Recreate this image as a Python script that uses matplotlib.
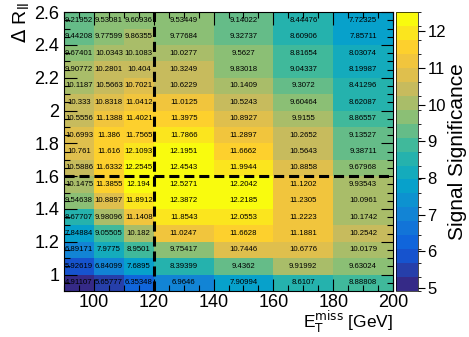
import numpy as np
import matplotlib
matplotlib.use("Agg")
import matplotlib.pyplot as plt
from matplotlib.colors import LinearSegmentedColormap, BoundaryNorm
from matplotlib.ticker import MultipleLocator

plt.rcParams['font.family'] = ['Liberation Sans', 'DejaVu Sans']

# bin edges (MET in GeV, delta R_ll)
met_edges = [90, 100, 110, 120, 140, 160, 180, 200]
dr_edges = [0.9, 1.0, 1.1, 1.2, 1.3, 1.4, 1.5, 1.6, 1.7, 1.8,
            1.9, 2.0, 2.1, 2.2, 2.3, 2.4, 2.5, 2.6]

# significance, rows from dR=0.9 (bottom) up to 2.5 (top)
row_0_9 = [4.91107, 5.65777, 6.35348, 6.9646, 7.90994, 8.6107, 8.88808]
row_1_0 = [5.92619, 6.84099, 7.6895, 8.39399, 9.4362, 9.91992, 9.63024]
row_1_1 = [6.89171, 7.9775, 8.9501, 9.75417, 10.7446, 10.6776, 10.0179]
row_1_2 = [7.84884, 9.05505, 10.182, 11.0247, 11.6628, 11.1881, 10.2542]
row_1_3 = [8.67707, 9.98096, 11.1408, 11.8543, 12.0553, 11.2223, 10.1742]
row_1_4 = [9.54638, 10.8897, 11.8912, 12.3872, 12.2185, 11.2305, 10.0961]
row_1_5 = [10.1475, 11.3855, 12.194, 12.5271, 12.2042, 11.1202, 9.93543]
row_1_6 = [10.5886, 11.6332, 12.2545, 12.4543, 11.9944, 10.8858, 9.67968]
row_1_7 = [10.761, 11.616, 12.1093, 12.1951, 11.6662, 10.5643, 9.38711]
row_1_8 = [10.6993, 11.386, 11.7565, 11.7866, 11.2897, 10.2652, 9.13527]
row_1_9 = [10.5556, 11.1388, 11.4021, 11.3975, 10.8927, 9.9155, 8.86557]
row_2_0 = [10.333, 10.8318, 11.0412, 11.0125, 10.5243, 9.60464, 8.62087]
row_2_1 = [10.1187, 10.5663, 10.7021, 10.6229, 10.1409, 9.3072, 8.41296]
row_2_2 = [9.90772, 10.2801, 10.404, 10.3249, 9.83018, 9.04337, 8.19987]
row_2_3 = [9.67401, 10.0343, 10.1083, 10.0277, 9.5627, 8.81654, 8.03074]
row_2_4 = [9.44208, 9.77599, 9.86355, 9.77684, 9.32737, 8.60906, 7.85711]
row_2_5 = [9.21952, 9.53081, 9.60936, 9.53449, 9.14022, 8.44476, 7.72325]

sig = np.array([row_0_9, row_1_0, row_1_1, row_1_2, row_1_3, row_1_4, row_1_5,
                row_1_6, row_1_7, row_1_8, row_1_9, row_2_0, row_2_1, row_2_2,
                row_2_3, row_2_4, row_2_5])

# ROOT kBird palette
stops = [0.0, 0.125, 0.25, 0.375, 0.5, 0.625, 0.75, 0.875, 1.0]
red = [0.2082, 0.0592, 0.0780, 0.0232, 0.1802, 0.5301, 0.8186, 0.9956, 0.9764]
green = [0.1664, 0.3599, 0.5041, 0.6419, 0.7178, 0.7492, 0.7328, 0.7862, 0.9832]
blue = [0.5293, 0.8684, 0.8385, 0.7914, 0.6425, 0.4662, 0.3499, 0.1968, 0.0539]
bird = LinearSegmentedColormap.from_list(
    "bird", list(zip(stops, zip(red, green, blue))), N=256)

levels = np.linspace(sig.min(), sig.max(), 21)
norm = BoundaryNorm(levels, ncolors=256)

fig = plt.figure(figsize=(4.69, 3.37), dpi=100)
ax = fig.add_axes([0.1365, 0.1365, 0.7015, 0.8275])
cax = fig.add_axes([0.844, 0.1365, 0.047, 0.8275])

mesh = ax.pcolormesh(met_edges, dr_edges, sig, cmap=bird, norm=norm)

xc = 0.5 * (np.array(met_edges[:-1]) + np.array(met_edges[1:]))
yc = 0.5 * (np.array(dr_edges[:-1]) + np.array(dr_edges[1:]))
for i, y in enumerate(yc):
    for j, x in enumerate(xc):
        ax.text(x, y, "{:g}".format(sig[i, j]), ha='center', va='center',
                fontsize=5.6, color='black')

ax.axvline(120, color='black', lw=2.2, dashes=(3.3, 1.6))
ax.axhline(1.6, color='black', lw=2.2, dashes=(3.3, 1.6))

ax.set_xlim(90, 200)
ax.set_ylim(0.9, 2.6)
ax.xaxis.set_major_locator(MultipleLocator(20))
ax.xaxis.set_minor_locator(MultipleLocator(5))
ax.yaxis.set_major_locator(MultipleLocator(0.2))
ax.yaxis.set_minor_locator(MultipleLocator(0.05))
ax.tick_params(which='both', direction='in', top=True, right=True,
               labelsize=13, width=0.8)
ax.tick_params(which='major', length=9)
ax.tick_params(which='minor', length=4.5)
ax.tick_params(axis='x', pad=2)
ax.set_yticks([1.0, 1.2, 1.4, 1.6, 1.8, 2.0, 2.2, 2.4, 2.6],
              ['1', '1.2', '1.4', '1.6', '1.8', '2', '2.2', '2.4', '2.6'])

fig.text(0.838, 0.005, r'E$_{\mathrm{T}}^{\mathrm{miss}}$ [GeV]',
         ha='right', va='bottom', fontsize=12.5)
fig.text(0.045, 0.995, r'$\Delta$ R$_{\mathrm{ll}}$', rotation=90,
         ha='center', va='top', fontsize=14)

cb = fig.colorbar(mesh, cax=cax, boundaries=levels, ticks=range(5, 13))
cb.outline.set_linewidth(0.5)
cax.tick_params(labelsize=12, length=5, width=0.8, pad=2)
cb.set_label('Signal Significance', fontsize=15, labelpad=1)

fig.savefig("out.png", dpi=100)
